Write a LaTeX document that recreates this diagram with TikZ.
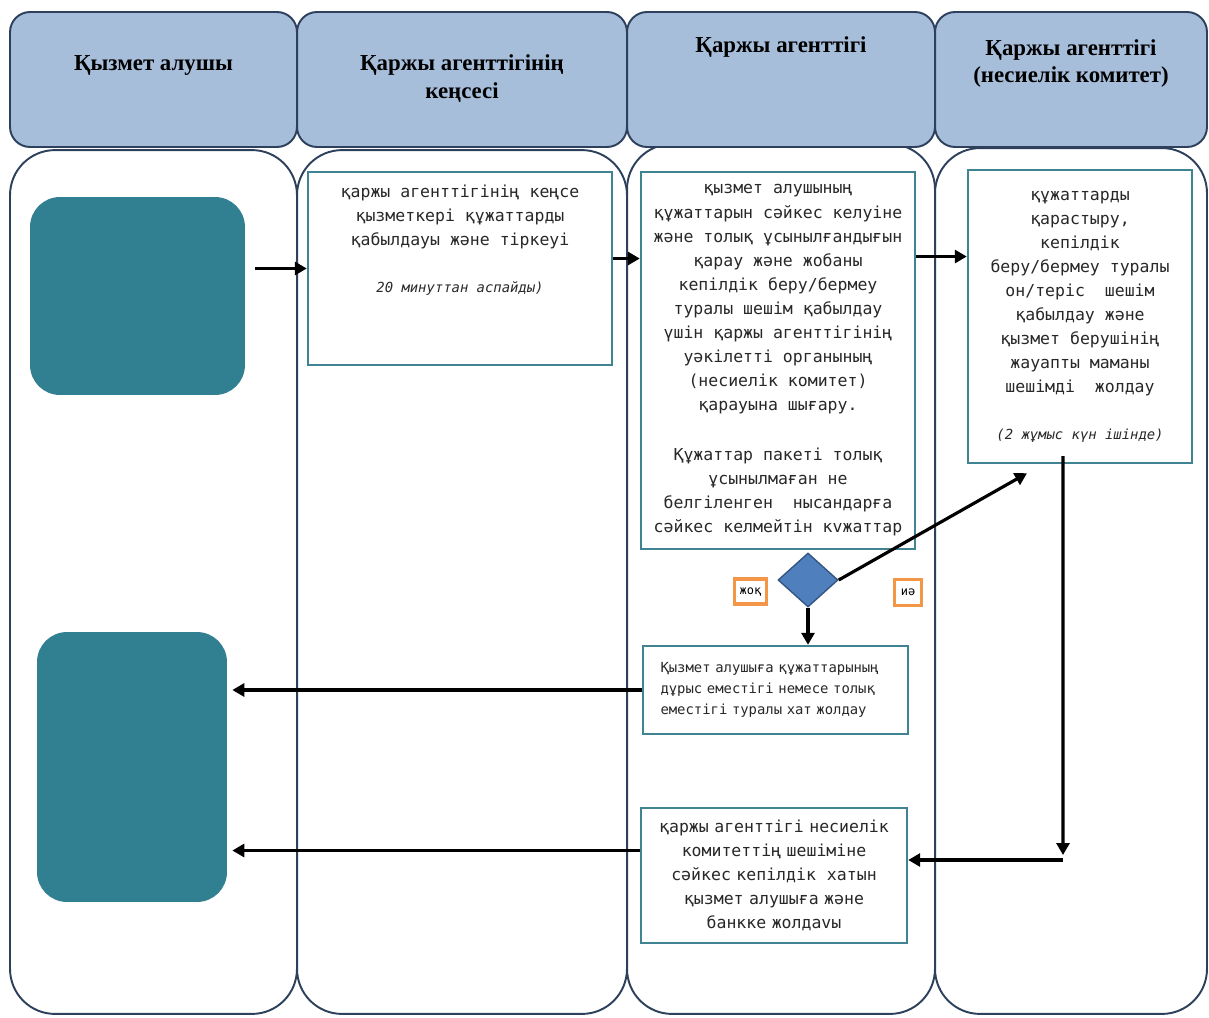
\documentclass[tikz,border=0pt]{standalone}
\usepackage{fontspec}
\newfontfamily\headfont{Liberation Serif}
\newfontfamily\boxfont{DejaVu Sans Mono}
\usetikzlibrary{arrows.meta,positioning,shapes.geometric}
\definecolor{headblue}{RGB}{167,190,219}
\definecolor{laneline}{RGB}{45,64,92}
\definecolor{clientfill}{RGB}{49,128,146}
\definecolor{procline}{RGB}{64,131,146}
\definecolor{gatefill}{RGB}{79,128,189}
\definecolor{gateline}{RGB}{52,86,130}
\definecolor{answerline}{RGB}{244,150,72}
\definecolor{boxtext}{RGB}{40,40,40}

\begin{document}
\begin{tikzpicture}[
  x=0.02cm, y=-0.02cm,
  line/.style={-{Triangle[length=2.4mm,width=2.6mm]}, line width=1.8pt},
  lanehead/.style={rectangle, rounded corners=0.4cm, draw=laneline, line width=1.1pt, fill=headblue, minimum height=2.7cm},
  headtext/.style={align=center, font=\headfont\bfseries\fontsize{13}{15.5}\selectfont},
  lane/.style={rectangle, rounded corners=0.9cm, draw=laneline, line width=1.1pt, fill=white},
  client/.style={rectangle, rounded corners=0.6cm, fill=clientfill},
  proc/.style={rectangle, draw=procline, line width=1.4pt, fill=white, inner sep=0pt, text=boxtext, align=center, font=\boxfont\fontsize{9.4}{13.7}\selectfont},
  test/.style={diamond, draw=gateline, line width=0.8pt, fill=gatefill, minimum width=1.2cm, minimum height=1.08cm, inner sep=0pt},
  answer/.style={rectangle, draw=answerline, line width=2pt, fill=white, inner sep=1pt, font=\boxfont\fontsize{6.8}{8}\selectfont}
]
\useasboundingbox (0,0) rectangle (1209,1017);

% Lanes
\node[lane, minimum width=5.74cm, minimum height=17.28cm] (lane1) at (153.5,582) {};
\node[lane, minimum width=6.6cm, minimum height=17.28cm] (lane2) at (462,582) {};
\node[lane, minimum width=6.16cm, minimum height=17.4cm] (lane3) at (781,579) {};
\node[lane, minimum width=5.44cm, minimum height=17.32cm] (lane4) at (1071,581) {};

\node[lanehead, minimum width=5.74cm] (head1) at (153.5,79.5) {};
\node[lanehead, minimum width=6.6cm] (head2) at (462,79.5) {};
\node[lanehead, minimum width=6.16cm] (head3) at (781,79.5) {};
\node[lanehead, minimum width=5.44cm] (head4) at (1071,79.5) {};

\node[headtext] (title1) at (153.5,65) {Қызмет алушы};
\node[headtext] (title2) at (462,78.5) {Қаржы агенттігінің\\кеңсесі};
\node[headtext] (title3) at (781,47) {Қаржы агенттігі};
\node[headtext] (title4) at (1071,63.5) {Қаржы агенттігі\\(несиелік комитет)};

% Nodes
\node[client, minimum width=4.3cm, minimum height=3.96cm] (client1) at (137.5,296) {};
\node[client, minimum width=3.8cm, minimum height=5.4cm] (client2) at (132,767) {};

\node[proc, minimum width=6.08cm, minimum height=3.86cm] (reg) at (460,268.5) {\parbox[c][3.34cm][t]{5.9cm}{\centering
қаржы агенттігінің кеңсе\\
қызметкері құжаттарды\\
қабылдауы және тіркеуі\\[0.45cm]
{\itshape\fontsize{7.9}{10}\selectfont 20 минуттан аспайды)}}};

\node[proc, minimum width=5.48cm, minimum height=7.54cm] (check) at (778,360.5) {қызмет алушының\\
құжаттарын сәйкес келуіне\\
және толық ұсынылғандығын\\
қарау және жобаны\\
кепілдік беру/бермеу\\
туралы шешім қабылдау\\
үшін қаржы агенттігінің\\
уәкілетті органының\\
(несиелік комитет)\\
қарауына шығару.\\[0.52cm]
Құжаттар пакеті толық\\
ұсынылмаған не\\
белгіленген\ \ нысандарға\\
сәйкес келмейтін кvжаттар};

\node[proc, minimum width=4.48cm, minimum height=5.86cm] (decide) at (1080,316.5) {құжаттарды\\
қарастыру,\\
кепілдік\\
беру/бермеу туралы\\
он/теріс\ \ шешім\\
қабылдау және\\
қызмет берушінің\\
жауапты маманы\\
шешімді\ \ жолдау\\[0.45cm]
{\itshape\fontsize{7.9}{10}\selectfont (2 жұмыс күн ішінде)}};

\node[test] (gate) at (808,580) {};
\node[answer, minimum width=0.64cm, minimum height=0.5cm] (no) at (750.5,591.5) {жоқ};
\node[answer, minimum width=0.54cm, minimum height=0.52cm] (yes) at (908,592.5) {иә};

\node[proc, align=left, text width=4.6cm, minimum width=5.3cm, minimum height=1.76cm, font=\boxfont\fontsize{7.9}{12}\selectfont] (deny) at (775.5,690) {Қызмет алушыға құжаттарының\\
дұрыс еместігі немесе толық\\
еместігі туралы хат жолдау};

\node[proc, text width=4.9cm, minimum width=5.32cm, minimum height=2.7cm] (send) at (774,875.5) {қаржы агенттігі несиелік\\
комитеттің шешіміне\\
сәйкес кепілдік\ \ хатын\\
қызмет алушыға және\\
банкке жолдаvы};

% Arrows
\draw[line, shorten <=2mm] (client1.east |- reg.west) -- (reg.west);
\draw[line] ([yshift=0.2cm]reg.east) -- ([yshift=0.2cm]reg.east -| check.west);
\draw[line] ([yshift=2.08cm]check.east) -- ([yshift=2.08cm]check.east -| decide.west);
\draw[line] (gate.east) -- ([shift={(-53,9)}]decide.south);
\draw[line] (gate.south) -- (gate.south |- deny.north);
\draw[line, shorten >=1mm] (deny.west) -- (deny.west -| client2.east);

\coordinate (turn) at (1063,860);
\draw[line] ([xshift=-0.34cm,yshift=0.16cm]decide.south) -- ([yshift=0.1cm]turn);
\draw[line] (turn) -- (turn -| send.east);
\draw[line, shorten >=1mm] ([yshift=0.5cm]send.west) -- ([yshift=0.5cm]send.west -| client2.east);

\end{tikzpicture}
\end{document}
